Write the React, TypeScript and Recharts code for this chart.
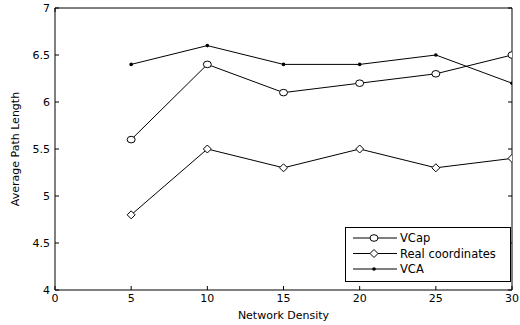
import { LineChart, Line, XAxis, YAxis, Legend } from "recharts";

const density = [5, 10, 15, 20, 25, 30];
const vcap = [5.6, 6.4, 6.1, 6.2, 6.3, 6.5];
const realCoords = [4.8, 5.5, 5.3, 5.5, 5.3, 5.4];
const vca = [6.4, 6.6, 6.4, 6.4, 6.5, 6.2];
const xTicks = [0, 5, 10, 15, 20, 25, 30];
const yTicks = [4, 4.5, 5, 5.5, 6, 6.5, 7];
const seriesNames = ["VCap", "Real coordinates", "VCA"];

const data = density.map((d, i) => ({
  density: d,
  vcap: vcap[i],
  real: realCoords[i],
  vca: vca[i],
}));

const font = "DejaVu Sans";
const tickStyle = { fill: "#000", fontSize: 11, fontFamily: font };

function circleMark(cx: number, cy: number) {
  return <ellipse cx={cx} cy={cy} rx={4} ry={3.3} fill="#fff" stroke="#000" />;
}
function diamondMark(cx: number, cy: number) {
  return (
    <path
      d={`M${cx},${cy - 4}L${cx + 4},${cy}L${cx},${cy + 4}L${cx - 4},${cy}Z`}
      fill="#fff"
      stroke="#000"
    />
  );
}
function pointMark(cx: number, cy: number) {
  return <circle cx={cx} cy={cy} r={1.8} fill="#000" />;
}
const marks = [circleMark, diamondMark, pointMark];

const dotOf = (mark: (x: number, y: number) => any) => (p: any) =>
  <g key={p.key ?? `${p.cx}-${p.cy}`}>{mark(p.cx, p.cy)}</g>;

function LegendBox() {
  return (
    <svg width={166} height={55}>
      <rect x={0.5} y={0.5} width={165} height={54} fill="#fff" stroke="#000" />
      {seriesNames.map((name, i) => {
        const y = 11 + i * 15.5;
        return (
          <g key={name}>
            <line x1={8} x2={52} y1={y} y2={y} stroke="#000" />
            {marks[i](29, y)}
            <text x={55} y={y + 4} fontSize={11.5} fontFamily={font} fill="#000">
              {name}
            </text>
          </g>
        );
      })}
    </svg>
  );
}

export default function App() {
  return (
    <div style={{ position: "absolute", left: 0, top: 0, background: "#fff" }}>
      <LineChart
        width={520}
        height={325}
        data={data}
        margin={{ top: 7, right: 7, left: 0, bottom: 0 }}
      >
        <XAxis
          dataKey="density"
          type="number"
          domain={[0, 30]}
          ticks={xTicks}
          allowDataOverflow
          height={35}
          tickSize={-4}
          tickMargin={8}
          tick={tickStyle}
          stroke="#000"
          label={{
            value: "Network Density",
            position: "insideBottom",
            offset: 6,
            style: { fill: "#000", fontSize: 11, fontFamily: font },
          }}
        />
        <XAxis
          xAxisId="top"
          orientation="top"
          type="number"
          domain={[0, 30]}
          ticks={xTicks}
          allowDataOverflow
          height={1}
          tickSize={-4}
          tick={() => <g />}
          stroke="#000"
        />
        <YAxis
          type="number"
          domain={[4, 7]}
          ticks={yTicks}
          allowDataOverflow
          width={55}
          tickSize={-4}
          tickMargin={9}
          tick={tickStyle}
          stroke="#000"
          label={{
            value: "Average Path Length",
            position: "insideLeft",
            angle: -90,
            offset: 15,
            style: { fill: "#000", fontSize: 11, fontFamily: font, textAnchor: "middle" },
          }}
        />
        <YAxis
          yAxisId="right"
          orientation="right"
          type="number"
          domain={[4, 7]}
          ticks={yTicks}
          allowDataOverflow
          width={1}
          tickSize={-4}
          tick={() => <g />}
          stroke="#000"
        />
        <Legend
          layout="vertical"
          align="center"
          verticalAlign="middle"
          content={() => <LegendBox />}
          wrapperStyle={{ left: 345, top: 227, width: 166, height: 55 }}
        />
        <Line
          dataKey="vcap"
          name={seriesNames[0]}
          stroke="#000"
          strokeWidth={1}
          dot={dotOf(circleMark)}
          isAnimationActive={false}
        />
        <Line
          dataKey="real"
          name={seriesNames[1]}
          stroke="#000"
          strokeWidth={1}
          dot={dotOf(diamondMark)}
          isAnimationActive={false}
        />
        <Line
          dataKey="vca"
          name={seriesNames[2]}
          stroke="#000"
          strokeWidth={1}
          dot={dotOf(pointMark)}
          isAnimationActive={false}
        />
      </LineChart>
    </div>
  );
}
